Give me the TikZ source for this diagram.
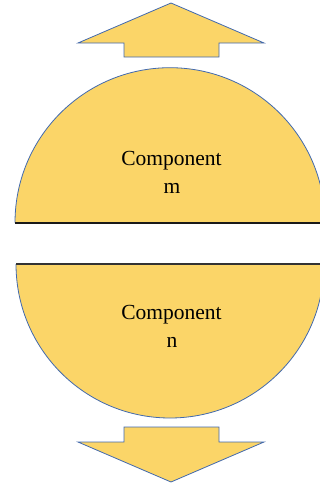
\documentclass[tikz,border=0pt]{standalone}
\usepackage{fontspec}
\setmainfont{Liberation Serif}
\definecolor{gold}{HTML}{FBD568}
\definecolor{edge}{HTML}{4169AE}
\begin{document}
\begin{tikzpicture}[x=1pt,y=-1pt,
  part/.style={fill=gold,draw=edge,line width=0.8pt,line join=miter},
  cut/.style={draw=black!90,line width=1.6pt},
  label/.style={font=\fontsize{21.5}{26}\selectfont,anchor=base,inner sep=0pt}]
\useasboundingbox (0,0) rectangle (320,488);
\clip (0,0) rectangle (320,488);
% up arrow
\draw[part] (171,3) -- (264,43) -- (219,43) -- (219,57) -- (124,57) -- (124,43) -- (78,43) -- cycle;
% top half disc
\fill[gold] (15,222.7) arc[start angle=180,end angle=360,radius=155] -- cycle;
\draw[draw=edge,line width=0.8pt] (15,222.7) arc[start angle=180,end angle=360,radius=155];
\draw[cut] (15,222.7) -- (325,222.7);
% bottom half disc
\fill[gold] (16,264) arc[start angle=180,end angle=0,radius=154] -- cycle;
\draw[draw=edge,line width=0.8pt] (16,264) arc[start angle=180,end angle=0,radius=154];
\draw[cut,draw=black!80] (16,264) -- (324,264);
% down arrow
\draw[part] (124,427) -- (219,427) -- (219,442) -- (264,442) -- (171,482) -- (78,442) -- (124,442) -- cycle;
% labels
\node[label] (m1) at (171.5,165) {Component};
\node[label] (m2) at (172,193) {m};
\node[label] (n1) at (171.5,319) {Component};
\node[label] (n2) at (172,347) {n};
\end{tikzpicture}
\end{document}
